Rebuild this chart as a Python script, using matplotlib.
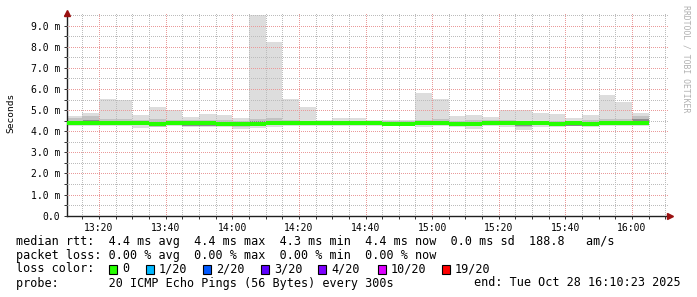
import matplotlib
matplotlib.use("Agg")
import matplotlib.pyplot as plt
from matplotlib.ticker import MultipleLocator, FuncFormatter

# smokeping: 5 minute bins, values in ms
bin_times = ["13:10", "13:15", "13:20", "13:25", "13:30", "13:35", "13:40", "13:45",
             "13:50", "13:55", "14:00", "14:05", "14:10", "14:15", "14:20", "14:25",
             "14:30", "14:35", "14:40", "14:45", "14:50", "14:55", "15:00", "15:05",
             "15:10", "15:15", "15:20", "15:25", "15:30", "15:35", "15:40", "15:45",
             "15:50", "15:55", "16:00"]
max_ms = [4.72, 4.86, 5.53, 5.48, 4.77, 5.15, 5.01, 4.68, 4.82, 4.75, 4.63, 9.51,
          8.23, 5.53, 5.15, 4.55, 4.63, 4.63, 4.55, 4.53, 4.53, 5.81, 5.53, 4.72,
          4.77, 4.68, 5.01, 5.01, 4.86, 4.82, 4.63, 4.77, 5.72, 5.39, 4.86]
min_ms = [4.27, 4.27, 4.25, 4.25, 4.15, 4.25, 4.27, 4.20, 4.20, 4.20, 4.11, 4.15,
          4.20, 4.25, 4.25, 4.27, 4.25, 4.27, 4.25, 4.25, 4.25, 4.22, 4.25, 4.19,
          4.12, 4.25, 4.22, 4.06, 4.22, 4.22, 4.25, 4.22, 4.25, 4.25, 4.25]
upper_ms = [4.62, 4.72, 4.60, 4.58, 4.53, 4.58, 4.52, 4.52, 4.55, 4.52, 4.50, 4.60,
            4.62, 4.55, 4.50, 4.50, 4.50, 4.50, 4.48, 4.48, 4.48, 4.55, 4.58, 4.50,
            4.52, 4.52, 4.52, 4.50, 4.50, 4.50, 4.50, 4.52, 4.60, 4.60, 4.72]
lower_ms = [4.30, 4.30, 4.29, 4.29, 4.28, 4.22, 4.29, 4.25, 4.26, 4.26, 4.20, 4.26,
            4.28, 4.29, 4.28, 4.29, 4.29, 4.29, 4.28, 4.27, 4.27, 4.28, 4.28, 4.25,
            4.26, 4.29, 4.28, 4.20, 4.28, 4.27, 4.25, 4.27, 4.28, 4.29, 4.29]
core_hi = [4.48, 4.55, 4.48, 4.47, 4.47, 4.46, 4.47, 4.46, 4.46, 4.45, 4.45, 4.47,
           4.48, 4.47, 4.46, 4.47, 4.47, 4.47, 4.46, 4.45, 4.45, 4.48, 4.50, 4.44,
           4.45, 4.47, 4.46, 4.48, 4.46, 4.45, 4.46, 4.46, 4.50, 4.50, 4.58]
core_lo = [4.30, 4.30, 4.29, 4.29, 4.29, 4.25, 4.29, 4.24, 4.24, 4.26, 4.23, 4.27,
           4.29, 4.29, 4.28, 4.29, 4.29, 4.29, 4.28, 4.27, 4.27, 4.29, 4.28, 4.25,
           4.26, 4.29, 4.28, 4.24, 4.28, 4.26, 4.25, 4.27, 4.28, 4.29, 4.29]
median_ms = [4.38, 4.39, 4.38, 4.38, 4.38, 4.34, 4.38, 4.37, 4.37, 4.35, 4.33, 4.36,
             4.38, 4.38, 4.37, 4.38, 4.38, 4.38, 4.37, 4.36, 4.35, 4.38, 4.37, 4.34,
             4.35, 4.38, 4.37, 4.39, 4.37, 4.35, 4.37, 4.36, 4.37, 4.38, 4.38]

loss_labels = ["0", "1/20", "2/20", "3/20", "4/20", "10/20", "19/20"]
loss_colors = ["#26ff00", "#00b8ff", "#0059ff", "#5e00ff", "#7e00ff", "#dd00ff", "#ff0000"]

legend_lines = [
    "median rtt:  4.4 ms avg  4.4 ms max  4.3 ms min  4.4 ms now  0.0 ms sd  188.8   am/s",
    "packet loss: 0.00 % avg  0.00 % max  0.00 % min  0.00 % now",
    "loss color:",
    "probe:       20 ICMP Echo Pings (56 Bytes) every 300s",
]
end_text = "end: Tue Oct 28 16:10:23 2025"

W, H = 697, 297
mono = "DejaVu Sans Mono"

x = [int(t[:2]) * 60 + int(t[3:]) - 13 * 60 for t in bin_times]

fig = plt.figure(figsize=(W / 100, H / 100), dpi=100)
ax = fig.add_axes([67 / W, (H - 215.7) / H, 601 / W, (215.7 - 13) / H])

def band(lo, hi, color, z):
    ax.bar(x, [h - l for h, l in zip(hi, lo)], bottom=lo, width=5, align="edge",
           color=color, linewidth=0, zorder=z)

band(min_ms, max_ms, "#dddddd", 1)
band(lower_ms, upper_ms, "#c2c2c2", 1.1)
band(core_lo, core_hi, "#8c8c8c", 1.2)
ax.bar(x, [0.19] * len(x), bottom=[m - 0.095 for m in median_ms], width=5,
       align="edge", color=loss_colors[0], linewidth=0, zorder=3)

ax.set_xlim(10.4, 190.8)
ax.set_ylim(0, 9.6)

ax.xaxis.set_major_locator(MultipleLocator(20))
ax.xaxis.set_minor_locator(MultipleLocator(5))
ax.yaxis.set_major_locator(MultipleLocator(1))
ax.yaxis.set_minor_locator(MultipleLocator(0.5))
ax.xaxis.set_major_formatter(FuncFormatter(
    lambda v, p: "%d:%02d" % (13 + int(v) // 60, int(v) % 60)))
ax.yaxis.set_major_formatter(FuncFormatter(
    lambda v, p: "0.0" if v == 0 else "%.1f m" % v))

ax.set_axisbelow(False)
ax.grid(which="minor", color="#bcbcbc", linestyle=(0, (1, 2)), linewidth=0.72,
        antialiased=False)
ax.grid(which="major", color="#ea9a9a", linestyle=(0, (1, 2)), linewidth=0.72,
        antialiased=False)

for s in ["top", "right"]:
    ax.spines[s].set_visible(False)
for s in ["left", "bottom"]:
    ax.spines[s].set_color("#202020")
    ax.spines[s].set_linewidth(1.0)

ax.tick_params(which="both", length=2, width=0.7, color="#303030",
               labelsize=7, pad=3)
for lab in ax.get_xticklabels() + ax.get_yticklabels():
    lab.set_fontfamily(mono)

ax.plot([0], [1], marker="^", markersize=4, color="#9a1010", transform=ax.transAxes,
        clip_on=False, zorder=5)
ax.plot([1.004], [0], marker=">", markersize=4, color="#9a1010", transform=ax.transAxes,
        clip_on=False, zorder=5)

fig.text(11 / W, 1 - 113 / H, "Seconds", rotation=90, ha="center", va="center",
         fontsize=6.8, family=mono)
fig.text(686 / W, 1 - 5 / H, "RRDTOOL / TOBI OETIKER", rotation=-90, ha="center",
         va="top", fontsize=5.9, family=mono, color="#b0b0b0")

rows = [241, 255, 269, 283]
for y, line in zip(rows, legend_lines):
    fig.text(16 / W, 1 - y / H, line, ha="left", va="center", fontsize=8.5, family=mono)
fig.text(681 / W, 1 - rows[3] / H, end_text, ha="right", va="center",
         fontsize=8.5, family=mono)

box_x = [109, 146, 203, 261, 318, 378, 442]
for bx, lab, col in zip(box_x, loss_labels, loss_colors):
    fig.patches.append(plt.Rectangle((bx / W, 1 - (rows[2] + 4.5) / H), 8 / W, 9 / H,
                                     transform=fig.transFigure, facecolor=col,
                                     edgecolor="black", linewidth=0.8))
    fig.text((bx + 13) / W, 1 - rows[2] / H, lab, ha="left", va="center",
             fontsize=8.5, family=mono)

fig.savefig("out.png", dpi=100, facecolor="white")
